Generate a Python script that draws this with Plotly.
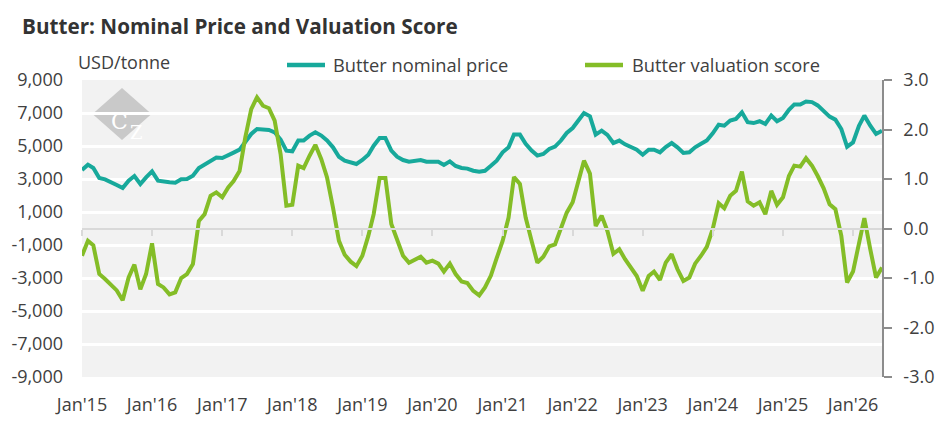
import pandas
import plotly.graph_objects as go

# monthly series, Jan 2015 .. Jun 2026
MONTHS = pandas.date_range("2015-01-01", periods=138, freq="MS")

PRICE_USD = [
    3550, 3870, 3670, 3060, 2980, 2840, 2640, 2455, 2900, 3180, 2700, 3100,  # 2015
    3460, 2900, 2840, 2800, 2780, 2980, 3000, 3200, 3670, 3870, 4110, 4300,  # 2016
    4270, 4475, 4600, 4780, 5220, 5730, 6030, 6010, 5970, 5830, 5390, 4720,  # 2017
    4680, 5330, 5330, 5630, 5830, 5630, 5330, 4920, 4350, 4110, 3990, 3910,  # 2018
    4150, 4475, 5020, 5480, 5480, 4720, 4350, 4150, 4050, 4110, 4150, 4050,  # 2019
    4050, 4050, 3850, 4070, 3790, 3670, 3630, 3500, 3440, 3500, 3800, 4110,  # 2020
    4620, 4920, 5690, 5690, 5130, 4720, 4420, 4520, 4820, 4960, 5330, 5790,  # 2021
    6090, 6540, 7000, 6800, 5690, 5930, 5670, 5180, 5330, 5100, 4940, 4780,  # 2022
    4475, 4780, 4780, 4620, 4940, 5180, 4920, 4580, 4620, 4920, 5130, 5330,  # 2023
    5770, 6290, 6230, 6540, 6640, 7040, 6440, 6390, 6500, 6340, 6840, 6500,  # 2024
    6700, 7190, 7520, 7520, 7700, 7660, 7460, 7150, 6780, 6600, 6030, 4960,  # 2025
    5220, 6230, 6840, 6230, 5730, 5930,  # 2026
]

VALUATION_SCORE = [
    -0.55, -0.25, -0.34, -0.92, -1.02, -1.14, -1.25, -1.45, -0.99, -0.73, -1.23, -0.92,
    -0.30, -1.12, -1.19, -1.33, -1.29, -1.00, -0.92, -0.72, 0.15, 0.29, 0.66, 0.73,
    0.63, 0.83, 0.96, 1.16, 1.84, 2.41, 2.65, 2.48, 2.43, 2.18, 1.50, 0.46,
    0.48, 1.27, 1.22, 1.47, 1.69, 1.40, 1.03, 0.42, -0.25, -0.53, -0.67, -0.76,
    -0.55, -0.15, 0.29, 1.02, 1.02, 0.09, -0.25, -0.55, -0.69, -0.62, -0.57, -0.69,
    -0.65, -0.71, -0.87, -0.71, -0.92, -1.07, -1.10, -1.26, -1.35, -1.19, -0.95, -0.60,
    -0.25, 0.22, 1.04, 0.90, 0.22, -0.25, -0.69, -0.57, -0.36, -0.32, 0.02, 0.32,
    0.53, 0.96, 1.37, 1.11, 0.05, 0.26, -0.05, -0.51, -0.42, -0.62, -0.79, -0.96,
    -1.26, -0.96, -0.87, -1.04, -0.69, -0.52, -0.82, -1.06, -0.99, -0.71, -0.55, -0.37,
    -0.01, 0.51, 0.41, 0.66, 0.76, 1.15, 0.55, 0.46, 0.53, 0.29, 0.76, 0.48,
    0.63, 1.06, 1.27, 1.25, 1.42, 1.27, 1.06, 0.81, 0.49, 0.39, -0.15, -1.09,
    -0.87, -0.25, 0.21, -0.42, -0.99, -0.79,
]

LEFT_TICKS = [9000, 7000, 5000, 3000, 1000, -1000, -3000, -5000, -7000, -9000]
RIGHT_TICKS = [3.0, 2.0, 1.0, 0.0, -1.0, -2.0, -3.0]

PRICE_NAME = "Butter nominal price"
SCORE_NAME = "Butter valuation score"

TEAL = "#17A99B"
GREEN = "#84BD27"
TEXT = "#404040"
FONT = "Open Sans"

X_RANGE = [MONTHS[0], MONTHS[-1]]

fig = go.Figure()
fig.add_trace(
    go.Scatter(
        x=MONTHS, y=PRICE_USD, name=PRICE_NAME, mode="lines",
        line=dict(color=TEAL, width=4), xaxis="x", yaxis="y",
        showlegend=False,
    )
)
fig.add_trace(
    go.Scatter(
        x=MONTHS, y=VALUATION_SCORE, name=SCORE_NAME, mode="lines",
        line=dict(color=GREEN, width=4), xaxis="x2", yaxis="y2",
        showlegend=False,
    )
)

tick_font = dict(family=FONT, size=18, color=TEXT)

fig.update_layout(
    width=945,
    height=443,
    margin=dict(l=82, r=63, t=80, b=66, autoexpand=False),
    paper_bgcolor="white",
    plot_bgcolor="#F2F2F2",
    font=dict(family=FONT, color=TEXT),
    title=dict(
        text="<b>Butter: Nominal Price and Valuation Score</b>",
        font=dict(family=FONT, size=20.7, color="#333333"),
        xref="container", x=22 / 945, xanchor="left",
        yref="container", y=1 - 27 / 443, yanchor="middle",
    ),
    xaxis=dict(
        type="date", range=X_RANGE, dtick="M12", tick0="2015-01-01",
        tickformat="%b'%y", showgrid=False, showline=False, zeroline=False,
        ticks="", tickfont=tick_font, ticklabelstandoff=15,
    ),
    xaxis2=dict(
        type="date", range=X_RANGE, overlaying="x", anchor="free", position=0.5,
        dtick="M12", tick0="2015-01-01", showgrid=False, showline=True,
        linecolor="#D9D9D9", linewidth=2, ticks="outside", ticklen=6,
        tickwidth=2, tickcolor="#D9D9D9", showticklabels=False,
    ),
    yaxis=dict(
        range=[-9000, 9000], tickvals=LEFT_TICKS,
        ticktext=[f"{v:,}" for v in LEFT_TICKS],
        showgrid=True, gridcolor="white", gridwidth=2.5, zeroline=False,
        showline=False, ticks="", tickfont=tick_font, ticklabelstandoff=18,
    ),
    yaxis2=dict(
        range=[-3, 3], overlaying="y", side="right", anchor="x",
        tickvals=RIGHT_TICKS, ticktext=[f"{v:.1f}" for v in RIGHT_TICKS],
        showgrid=False, zeroline=False, showline=True, linecolor="#8C8C8C",
        linewidth=1.5, ticks="outside", ticklen=8, tickcolor="#8C8C8C",
        tickwidth=1.5, tickfont=tick_font, ticklabelstandoff=8,
    ),
)


def px_x(px):
    return (px - 82) / 800


def px_y(py):
    return (377 - py) / 297


# hand-drawn legend above the plot
for x0, x1, colour, label, tx in [
    (287, 325, TEAL, PRICE_NAME, 331),
    (585, 623, GREEN, SCORE_NAME, 630),
]:
    fig.add_shape(
        type="line", xref="paper", yref="paper",
        x0=px_x(x0), x1=px_x(x1), y0=px_y(65), y1=px_y(65),
        line=dict(color=colour, width=4.5),
    )
    fig.add_annotation(
        xref="paper", yref="paper", x=px_x(tx), y=px_y(65),
        xanchor="left", yanchor="middle", showarrow=False, text=label,
        font=dict(family=FONT, size=18.3, color=TEXT),
    )

fig.add_annotation(
    xref="paper", yref="paper", x=px_x(76), y=px_y(62),
    xanchor="left", yanchor="middle", showarrow=False, text="USD/tonne",
    font=dict(family=FONT, size=18, color=TEXT),
)

# CZ watermark: diamond with an offset C and Z
fig.add_shape(
    type="path", xref="paper", yref="paper", layer="below",
    path=(
        f"M {px_x(92.5)},{px_y(114)} L {px_x(122)},{px_y(88)} "
        f"L {px_x(151.5)},{px_y(114)} L {px_x(122)},{px_y(140)} Z"
    ),
    fillcolor="#C9C9C9", line=dict(width=0),
)
fig.add_annotation(
    xref="paper", yref="paper", x=px_x(110), y=px_y(108),
    showarrow=False, text="C", borderpad=0,
    font=dict(family="DejaVu Serif", size=22, color="white"),
)
fig.add_annotation(
    xref="paper", yref="paper", x=px_x(129), y=px_y(121),
    showarrow=False, text="Z", borderpad=0,
    font=dict(family="DejaVu Serif", size=18, color="white"),
)

# the page's default body margin would push the figure 8px right and down
fig.write_html(
    "out.html",
    config={"displayModeBar": False},
    post_script="document.body.style.margin='0';",
)
